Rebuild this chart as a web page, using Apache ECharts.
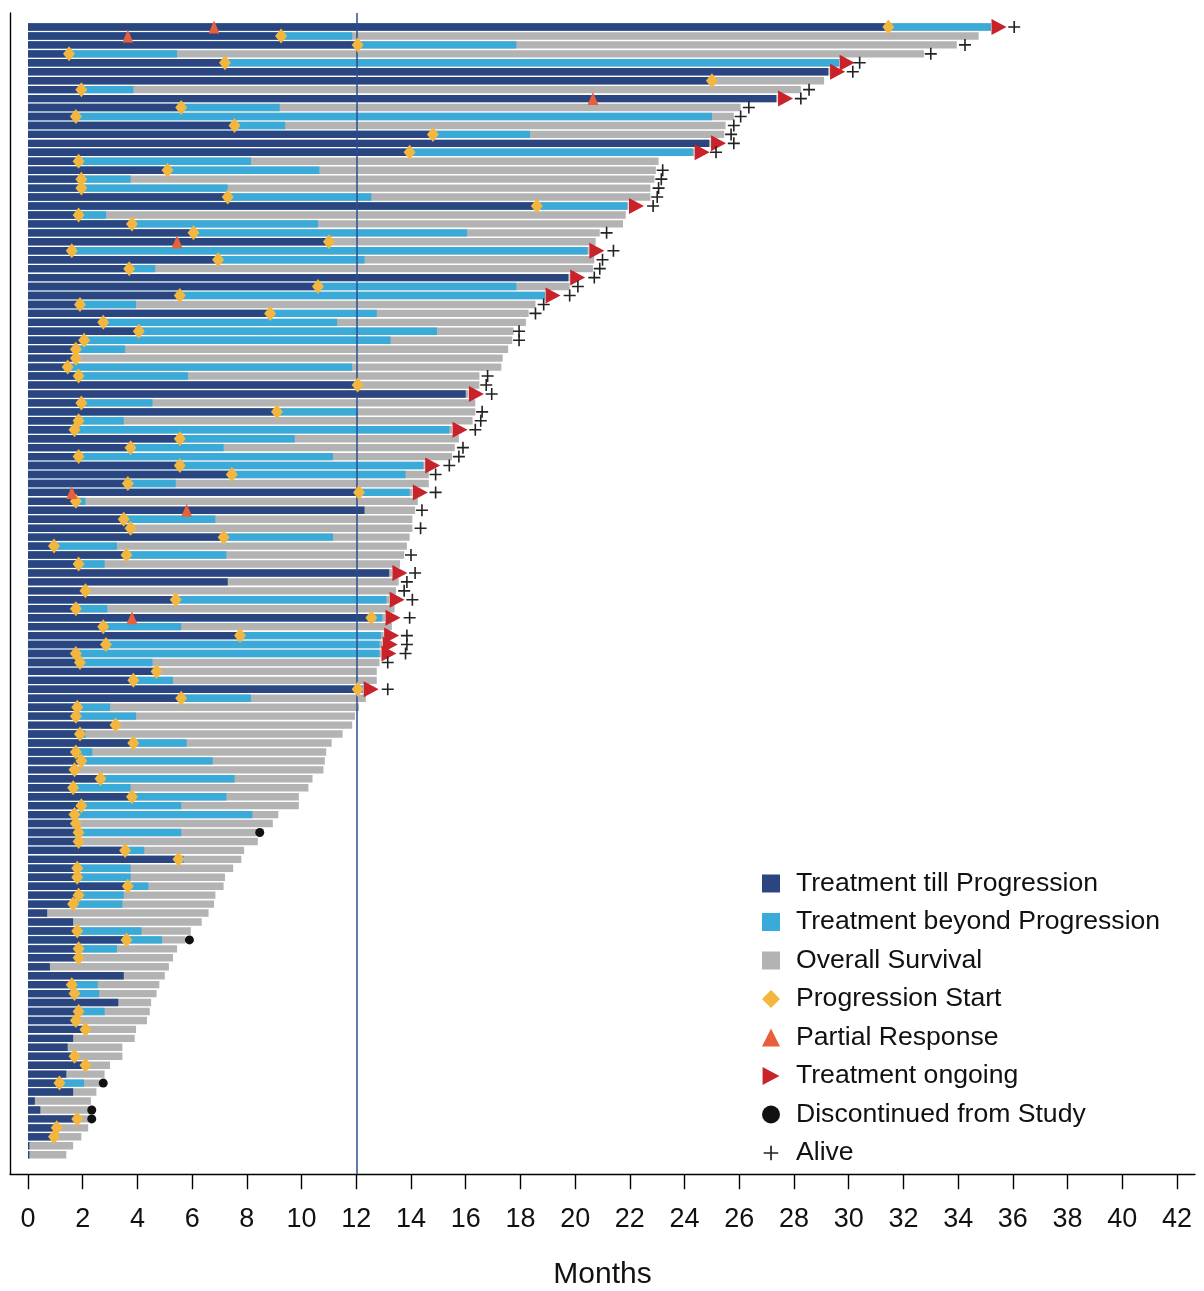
<!DOCTYPE html>
<html>
<head>
<meta charset="utf-8">
<script src="https://cdn.jsdelivr.net/npm/echarts@6/dist/echarts.min.js"></script>
<style>
html, body { margin: 0; padding: 0; background: #ffffff; }
#chart { width: 1204px; height: 1291px; }
</style>
</head>
<body>
<div id="chart"></div>
<script>
// Swimmer plot: one row per patient, months on study.

// End of treatment till progression (months), rows top to bottom
const tillProgression = [
  31.45, 9.25, 12.05, 1.5, 7.2, 29.25, 25.0, 1.95, 27.35, 5.6,
  1.75, 7.55, 14.8, 24.9, 13.95, 1.85, 5.1, 1.95, 1.95, 7.3,
  18.6, 1.85, 3.8, 6.05, 11.0, 1.6, 6.95, 3.7, 19.75, 10.6,
  5.55, 1.9, 8.85, 2.75, 4.05, 2.05, 1.75, 1.75, 1.45, 1.85,
  12.05, 16.0, 1.95, 9.1, 1.85, 1.7, 5.55, 3.75, 1.85, 5.55,
  7.45, 3.65, 12.1, 1.75, 12.3, 3.5, 3.75, 7.15, 0.95, 3.6,
  1.85, 13.2, 7.3, 2.1, 5.4, 1.75, 12.55, 2.75, 7.75, 2.85,
  1.75, 1.9, 4.7, 3.85, 12.05, 5.6, 1.8, 1.75, 3.2, 1.9,
  3.85, 1.75, 1.95, 1.7, 2.65, 1.65, 3.8, 1.95, 1.7, 1.75,
  1.85, 1.85, 3.55, 5.5, 1.8, 1.8, 3.65, 1.85, 1.65, 0.7,
  1.65, 1.8, 3.6, 1.85, 1.85, 0.8, 3.5, 1.6, 1.7, 3.3,
  1.85, 1.75, 2.1, 1.65, 1.45, 1.7, 2.1, 1.4, 1.15, 1.65,
  0.25, 0.45, 1.8, 1.05, 0.95, 0.05, 0.05
];

// End of treatment beyond progression (months); null where there was none
const beyondProgression = [
  35.2, 11.85, 17.85, 5.45, 29.65, null, null, 3.85, null, 9.2,
  25.0, 9.4, 18.35, null, 24.3, 8.15, 10.65, 3.75, 7.3, 12.55,
  21.9, 2.85, 10.6, 16.05, null, 20.45, 12.3, 4.65, null, 17.85,
  18.9, 3.95, 12.75, 11.3, 14.95, 13.25, 3.55, null, 11.85, 5.85,
  null, null, 4.55, 12.05, 3.5, 15.4, 9.75, 7.15, 11.15, 14.45,
  13.8, 5.4, 13.95, 2.1, null, 6.85, null, 11.15, 3.25, 7.25,
  2.8, null, null, null, 13.1, 2.9, 12.95, 5.6, 12.9, 12.85,
  12.85, 4.55, null, 5.3, 12.25, 8.15, 3.0, 3.95, null, 2.1,
  5.8, 2.35, 6.75, null, 7.55, 3.75, 7.25, 5.6, 8.2, null,
  5.6, null, 4.25, 5.7, 3.75, 3.75, 4.4, 3.5, 3.45, null,
  null, 4.15, 4.9, 3.25, null, null, null, 2.55, 2.6, null,
  2.8, null, null, null, null, null, null, null, 2.05, null,
  null, null, null, null, null, null, null
];

// Overall survival (months)
const overallSurvival = [
  35.2, 34.75, 33.95, 32.75, 29.65, 29.3, 29.1, 28.25, 27.4, 26.05,
  25.8, 25.5, 25.45, 24.95, 24.35, 23.05, 22.95, 22.9, 22.75, 22.75,
  21.95, 21.85, 21.75, 20.9, 20.75, 20.5, 20.7, 20.65, 19.8, 19.8,
  18.9, 18.55, 18.3, 18.2, 17.75, 17.7, 17.55, 17.35, 17.3, 16.5,
  16.5, 16.1, 16.35, 16.35, 16.25, 15.5, 15.75, 15.6, 15.5, 14.5,
  14.65, 14.65, 14.05, 14.25, 14.15, 14.05, 14.05, 13.95, 13.85, 13.75,
  13.6, 13.3, 13.55, 13.45, 13.2, 13.4, 13.05, 13.3, 13.0, 12.95,
  12.9, 12.85, 12.75, 12.75, 12.25, 12.35, 12.1, 11.95, 11.85, 11.5,
  11.1, 10.9, 10.85, 10.8, 10.4, 10.25, 9.9, 9.9, 9.15, 8.95,
  8.35, 8.4, 7.9, 7.8, 7.5, 7.2, 7.15, 6.85, 6.8, 6.6,
  6.35, 5.95, 5.75, 5.45, 5.3, 5.15, 5.0, 4.8, 4.7, 4.5,
  4.45, 4.35, 3.95, 3.9, 3.45, 3.45, 3.0, 2.8, 2.65, 2.5,
  2.3, 2.25, 2.25, 2.2, 1.95, 1.65, 1.4
];

// 1 = progression recorded at the end of treatment till progression
const progressionStart = [
  1, 1, 1, 1, 1, 0, 1, 1, 0, 1,
  1, 1, 1, 0, 1, 1, 1, 1, 1, 1,
  1, 1, 1, 1, 1, 1, 1, 1, 0, 1,
  1, 1, 1, 1, 1, 1, 1, 1, 1, 1,
  1, 0, 1, 1, 1, 1, 1, 1, 1, 1,
  1, 1, 1, 1, 0, 1, 1, 1, 1, 1,
  1, 0, 0, 1, 1, 1, 1, 1, 1, 1,
  1, 1, 1, 1, 1, 1, 1, 1, 1, 1,
  1, 1, 1, 1, 1, 1, 1, 1, 1, 1,
  1, 1, 1, 1, 1, 1, 1, 1, 1, 0,
  0, 1, 1, 1, 1, 0, 0, 1, 1, 0,
  1, 1, 1, 0, 0, 1, 1, 0, 1, 0,
  0, 0, 1, 1, 1, 0, 0
];

// Rows (1-based) still on treatment
const treatmentOngoing = [1, 5, 6, 9, 14, 15, 21, 26, 29, 31, 42, 46, 50, 53, 62, 65, 67, 69, 70, 71, 75];

// Last known alive (months); null where not marked
const alive = [
  36.05, null, 34.25, 33.0, 30.4, 30.15, null, 28.55, 28.25, 26.35,
  26.05, 25.8, 25.7, 25.8, 25.15, null, 23.2, 23.15, 23.05, 23.0,
  22.85, null, null, 21.15, null, 21.4, 21.0, 20.9, 20.7, 20.1,
  19.8, 18.85, 18.55, null, 17.95, 17.95, null, null, null, 16.8,
  16.75, 16.95, null, 16.6, 16.55, 16.35, null, 15.9, 15.75, 15.4,
  14.9, null, 14.9, null, 14.4, null, 14.35, null, null, 14.0,
  null, 14.15, 13.85, 13.75, 14.05, null, 13.95, null, 13.85, 13.85,
  13.8, 13.15, null, null, 13.15
];

// Partial response: [row (1-based), month]
const partialResponse = [[1, 6.8], [2, 3.65], [9, 20.65], [25, 5.45], [53, 1.6], [55, 5.8], [67, 3.8]];

// Discontinued from study: [row (1-based), month]
const discontinued = [[91, 8.47], [103, 5.9], [119, 2.75], [122, 2.33], [123, 2.33]];

const landmarkMonth = 12;

const patients = tillProgression.map((_, i) => 'Pt ' + (i + 1));

// ---- layout ----
const FONT = "'Liberation Sans', Arial, Helvetica, sans-serif";
const PLOT_LEFT = 28, PLOT_RIGHT_PX = 1177, FRAME_LEFT = 10, FRAME_RIGHT_PX = 1195;
const X_MAX = 42;
const PX_PER_MONTH = (PLOT_RIGHT_PX - PLOT_LEFT) / X_MAX;
const FRAME_MIN = -(PLOT_LEFT - FRAME_LEFT) / PX_PER_MONTH;
const FRAME_MAX = X_MAX + (FRAME_RIGHT_PX - PLOT_RIGHT_PX) / PX_PER_MONTH;

const C_DARK = '#2a4580', C_LIGHT = '#3aaad8', C_GRAY = '#b3b3b3';
const C_DIAMOND = '#f3b63f', C_PR = '#e8603b', C_ONGOING = '#c8222b', C_DISC = '#111111', C_ALIVE = '#222222';

const ONGOING_PATH = 'path://M0,0L15,8L0,16Z';
const PLUS_PATH = 'path://M5.2,0H6.8V5.2H12V6.8H6.8V12H5.2V6.8H0V5.2H5.2Z';
const PLUS_LEGEND = 'path://M0,0h0.05v0.05h-0.05zM16,16h0.05v0.05h-0.05zM7.3,1.5h1.5v5.8h5.7v1.5h-5.7v5.7h-1.5v-5.7h-5.8v-1.5h5.8z';

const diamondData = [];
progressionStart.forEach((f, i) => { if (f) diamondData.push([tillProgression[i], i]); });
const ongoingData = treatmentOngoing.map(r => [overallSurvival[r - 1], r - 1]);
const aliveData = [];
alive.forEach((v, i) => { if (v != null) aliveData.push([v, i]); });
const prData = partialResponse.map(([r, m]) => [m, r - 1]);
const discData = discontinued.map(([r, m]) => [m, r - 1]);

const BAR_W = 7.4;
const barCommon = { type: 'bar', xAxisIndex: 1, yAxisIndex: 1, barWidth: BAR_W, barGap: '-100%', silent: true, z: 2 };
const scatterCommon = { type: 'scatter', xAxisIndex: 1, yAxisIndex: 1, silent: true, z: 5 };

const chart = echarts.init(document.getElementById('chart'), null, { renderer: 'canvas' });
chart.setOption({
  animation: false,
  backgroundColor: '#ffffff',
  textStyle: { fontFamily: FONT },
  grid: [
    { left: FRAME_LEFT, right: 1204 - FRAME_RIGHT_PX, top: 13, bottom: 117, outerBoundsMode: 'none', containLabel: false },
    { left: PLOT_LEFT, right: 1204 - PLOT_RIGHT_PX, top: 22.5, bottom: 131.8, outerBoundsMode: 'none', containLabel: false }
  ],
  xAxis: [
    {
      gridIndex: 0, type: 'value', min: FRAME_MIN, max: FRAME_MAX,
      axisLine: { show: true, onZero: false, lineStyle: { color: '#000', width: 1.4 } },
      axisTick: { show: false }, axisLabel: { show: false }, splitLine: { show: false }
    },
    {
      gridIndex: 1, type: 'value', min: 0, max: X_MAX, interval: 2, offset: 15,
      axisLine: { show: false },
      axisTick: { show: true, length: 15, lineStyle: { color: '#000', width: 1.4 } },
      axisLabel: { margin: 32, fontSize: 27, fontFamily: FONT, color: '#111' },
      splitLine: { show: false },
      name: 'Months', nameLocation: 'middle', nameGap: 86,
      nameTextStyle: { fontSize: 30, fontFamily: FONT, color: '#111' }
    }
  ],
  yAxis: [
    {
      gridIndex: 0, type: 'value', min: 0, max: 1,
      axisLine: { show: true, onZero: false, lineStyle: { color: '#000', width: 1.4 } },
      axisTick: { show: false }, axisLabel: { show: false }, splitLine: { show: false }
    },
    {
      gridIndex: 1, type: 'category', data: patients, inverse: true,
      axisLine: { show: false }, axisTick: { show: false }, axisLabel: { show: false }, splitLine: { show: false }
    }
  ],
  legend: {
    orient: 'vertical', left: 757, top: 865,
    itemWidth: 18, itemHeight: 18, itemGap: 11.5,
    selectedMode: false,
    textStyle: { fontSize: 26.6, fontFamily: FONT, color: '#111', lineHeight: 26, padding: [0, 0, 0, 11] },
    data: [
      { name: 'Treatment till Progression', icon: 'rect' },
      { name: 'Treatment beyond Progression', icon: 'rect' },
      { name: 'Overall Survival', icon: 'rect' },
      { name: 'Progression Start', icon: 'diamond' },
      { name: 'Partial Response', icon: 'triangle' },
      { name: 'Treatment ongoing', icon: ONGOING_PATH },
      { name: 'Discontinued from Study', icon: 'circle' },
      { name: 'Alive', icon: PLUS_LEGEND }
    ]
  },
  series: [
    Object.assign({}, barCommon, { name: 'Overall Survival', data: overallSurvival, itemStyle: { color: C_GRAY } }),
    Object.assign({}, barCommon, { name: 'Treatment beyond Progression', data: beyondProgression, itemStyle: { color: C_LIGHT } }),
    Object.assign({}, barCommon, { name: 'Treatment till Progression', data: tillProgression, itemStyle: { color: C_DARK } }),
    {
      type: 'line', xAxisIndex: 0, yAxisIndex: 0, data: [], silent: true, z: 4,
      markLine: {
        silent: true, animation: false, symbol: ['none', 'none'],
        label: { show: false },
        lineStyle: { color: '#2c4d8f', width: 1.5, type: 'solid' },
        data: [{ xAxis: landmarkMonth }]
      }
    },
    Object.assign({}, scatterCommon, {
      name: 'Progression Start', data: diamondData, symbol: 'diamond', symbolSize: [12, 15],
      itemStyle: { color: C_DIAMOND, opacity: 1 }
    }),
    Object.assign({}, scatterCommon, {
      name: 'Partial Response', data: prData, symbol: 'triangle', symbolSize: [11, 13],
      itemStyle: { color: C_PR, opacity: 1 }
    }),
    Object.assign({}, scatterCommon, {
      name: 'Treatment ongoing', data: ongoingData, symbol: ONGOING_PATH, symbolSize: [15, 16],
      symbolOffset: [8, 0], symbolKeepAspect: false, itemStyle: { color: C_ONGOING, opacity: 1 }
    }),
    Object.assign({}, scatterCommon, {
      name: 'Discontinued from Study', data: discData, symbol: 'circle', symbolSize: 9,
      itemStyle: { color: C_DISC, opacity: 1 }
    }),
    Object.assign({}, scatterCommon, {
      name: 'Alive', data: aliveData, symbol: PLUS_PATH, symbolSize: 12,
      itemStyle: { color: C_ALIVE, opacity: 1 }
    })
  ]
});
</script>
</body>
</html>
